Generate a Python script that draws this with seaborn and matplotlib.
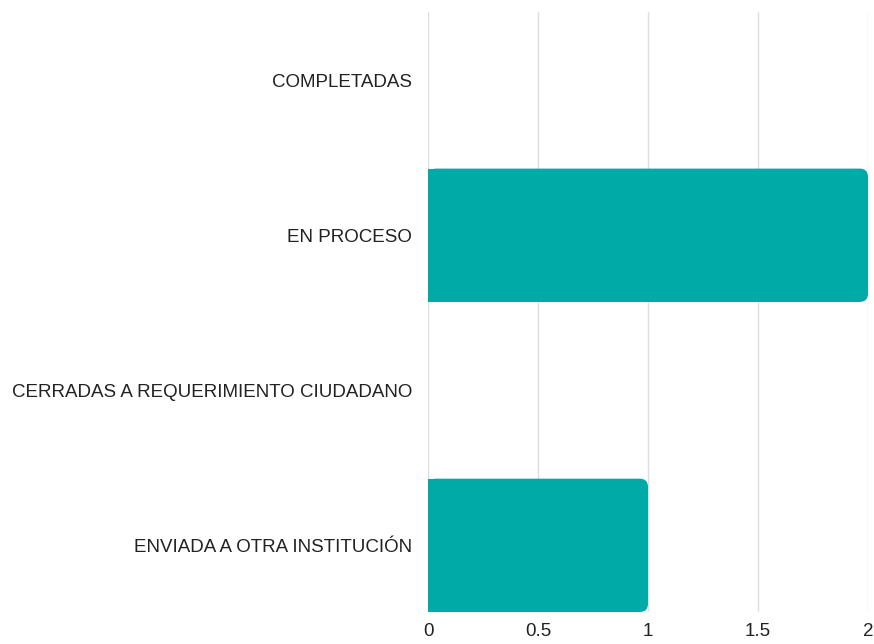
import matplotlib
matplotlib.use("Agg")
import matplotlib.pyplot as plt
import seaborn as sns
import pandas as pd
from matplotlib.patches import FancyBboxPatch

categorias = ["COMPLETADAS", "EN PROCESO", "CERRADAS A REQUERIMIENTO CIUDADANO", "ENVIADA A OTRA INSTITUCIÓN"]
valores = [0, 2, 0, 1]
ticks_x = [0, 0.5, 1, 1.5, 2]
etiquetas_x = ["0", "0.5", "1", "1.5", "2"]

COLOR = "#00AAA6"

sns.set_theme(style="white")
plt.rcParams["font.family"] = ["Liberation Sans", "DejaVu Sans"]

df = pd.DataFrame({"categoria": categorias, "valor": valores})

fig = plt.figure(figsize=(8.74, 6.44), dpi=100)
ax = fig.add_axes([428 / 874, 1 - 612 / 644, (868 - 428) / 874, (612 - 12) / 644])

sns.barplot(data=df, x="valor", y="categoria", color=COLOR, width=0.86, ax=ax,
            saturation=1, zorder=2, linewidth=0)

# esquinas redondeadas a la derecha
r = 0.037
aspecto = 1.45
for p in list(ax.patches):
    p.set_linewidth(0)
    w = p.get_width()
    if w <= 0:
        p.set_visible(False)
        continue
    y0, h = p.get_y(), p.get_height()
    p.set_width(w - r)
    redondo = FancyBboxPatch((r, y0 + r * aspecto), w - 2 * r, h - 2 * r * aspecto,
                             boxstyle=f"round,pad={r}", mutation_aspect=aspecto,
                             facecolor=COLOR, edgecolor="none", zorder=2)
    ax.add_patch(redondo)

ax.set_xlim(0, 2)
ax.set_ylim(3.43, -0.44)
ax.set_xticks(ticks_x)
ax.set_xticklabels(etiquetas_x)
ax.xaxis.grid(True, color="#dedede", linewidth=1, zorder=0)
ax.set_axisbelow(True)
for s in ax.spines.values():
    s.set_visible(False)
ax.tick_params(axis="both", length=0, labelsize=13.5, labelcolor="#222222")
ax.tick_params(axis="y", pad=11.5)
ax.tick_params(axis="x", pad=8)
ax.set_xlabel("")
ax.set_ylabel("")

plt.savefig("out.png", dpi=100)
plt.close()
